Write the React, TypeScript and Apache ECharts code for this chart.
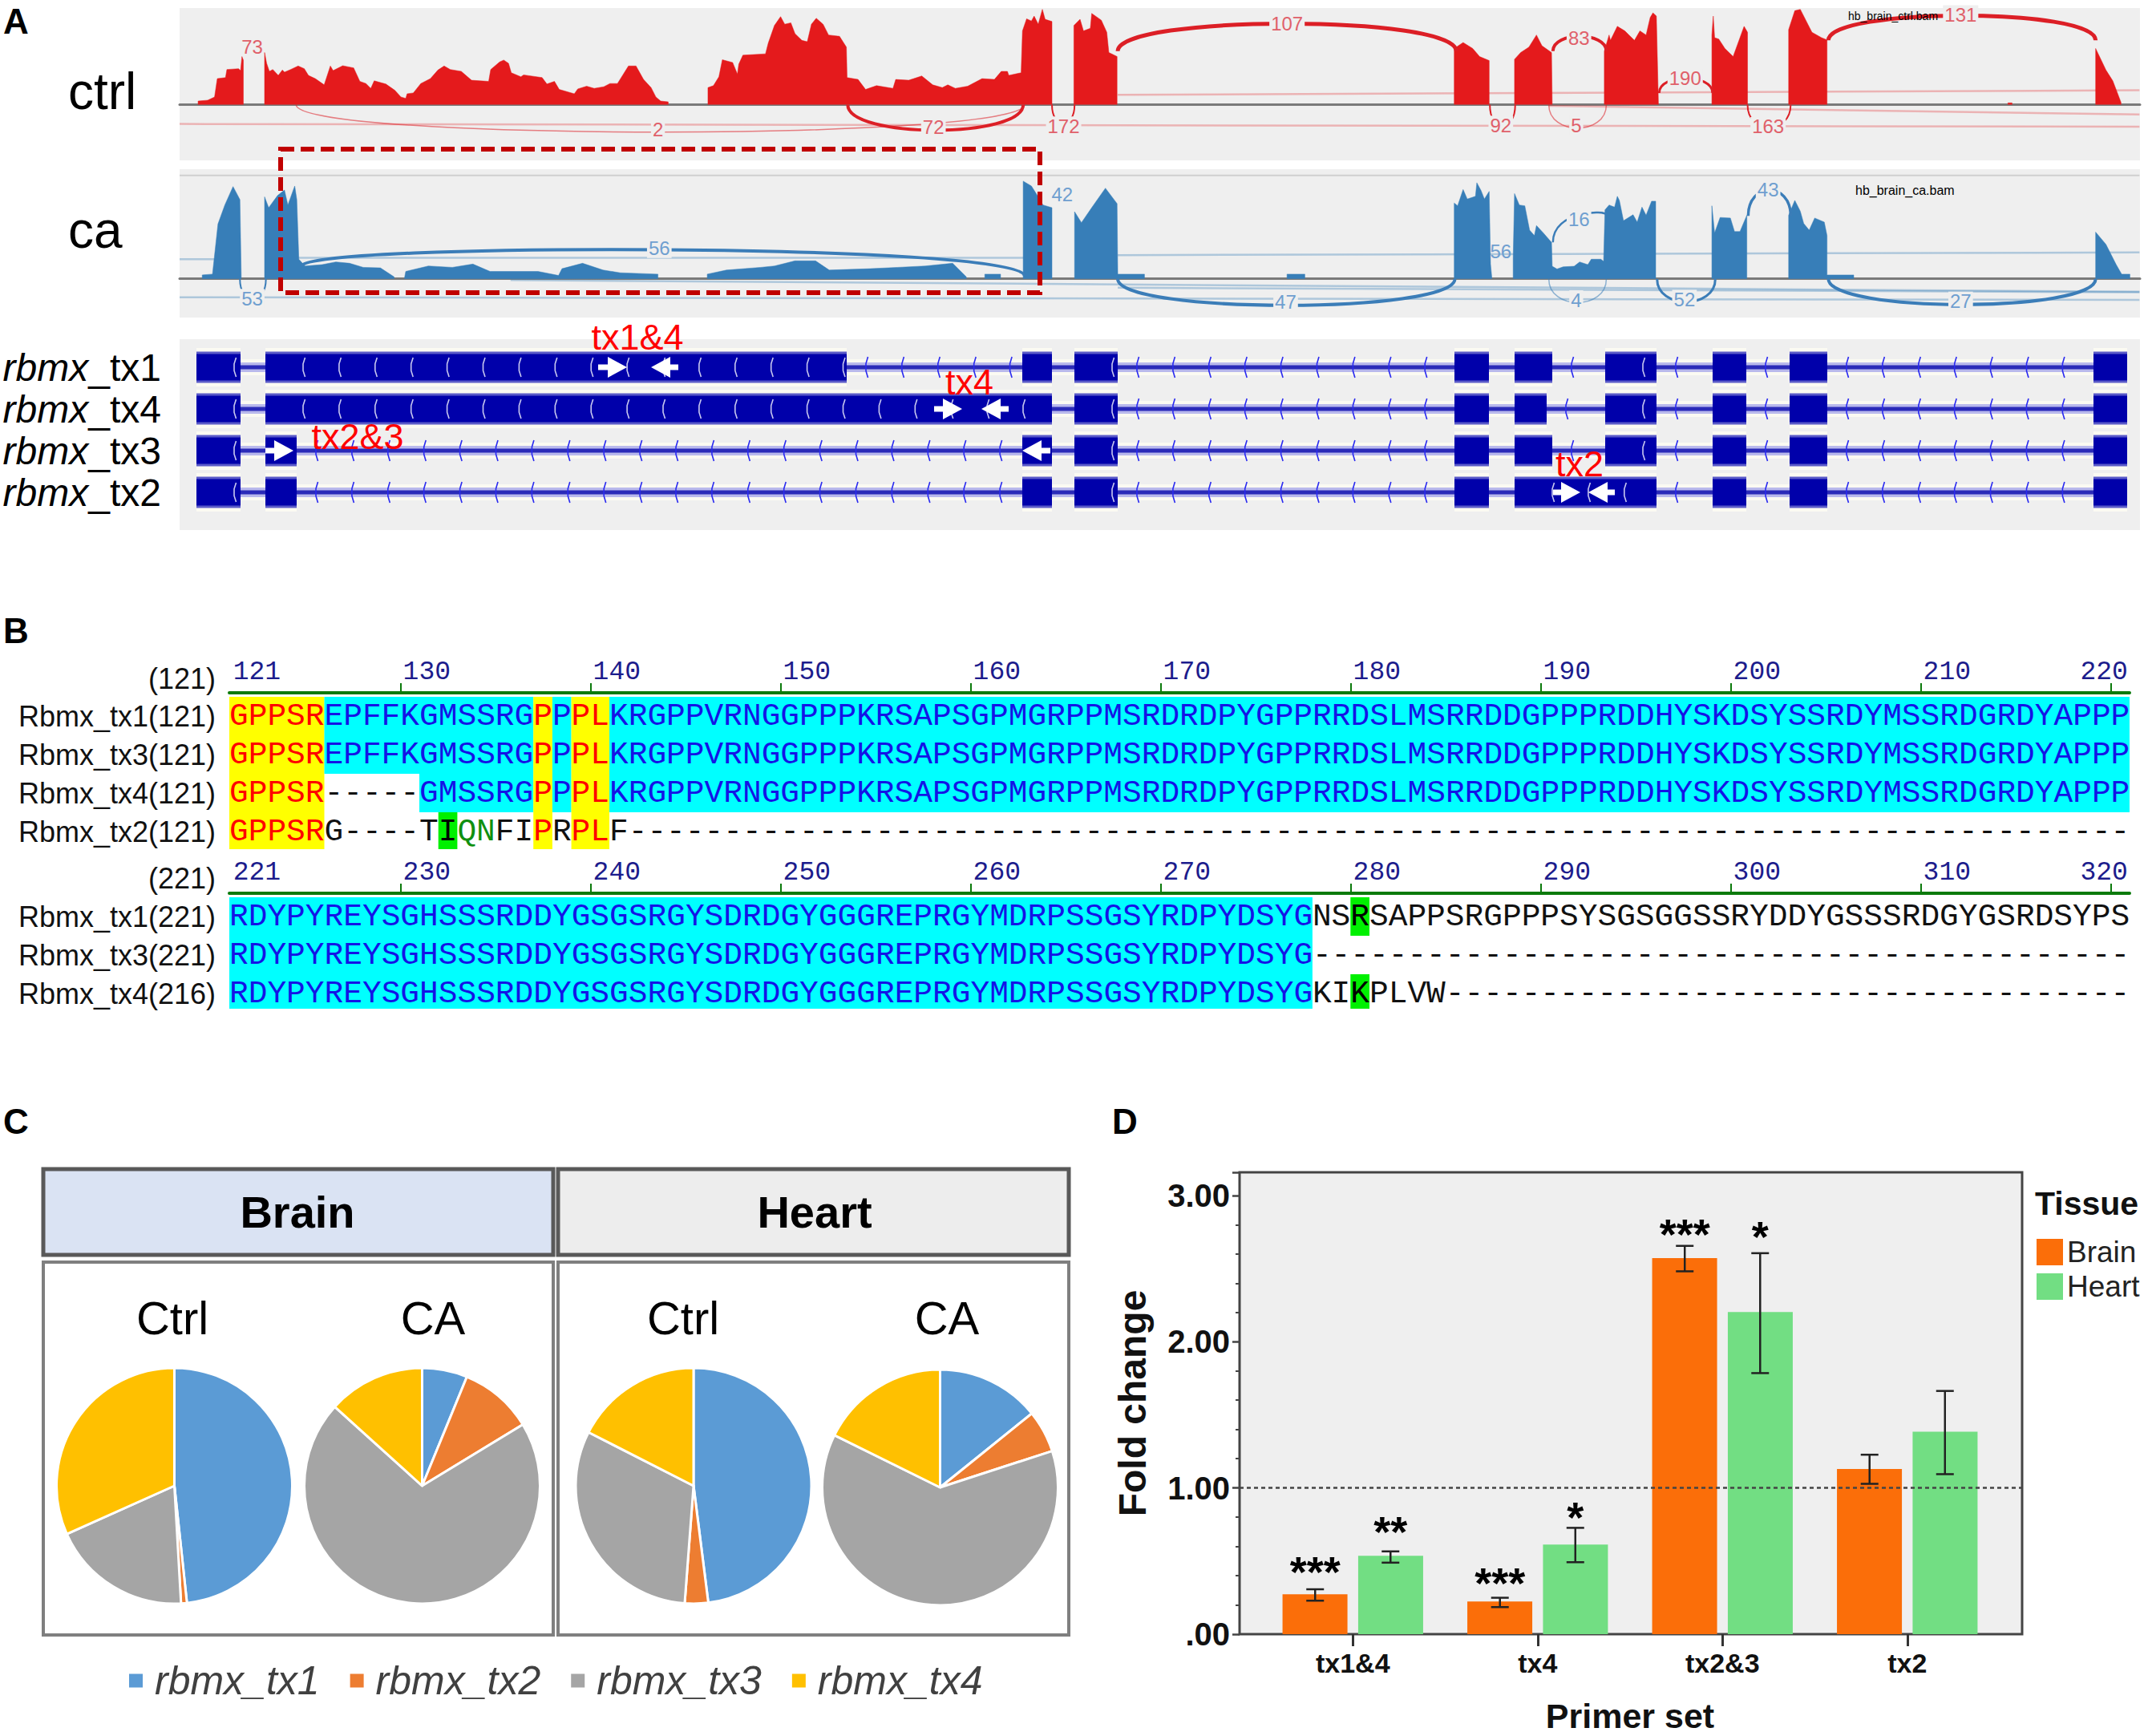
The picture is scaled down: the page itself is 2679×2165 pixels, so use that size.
import React, { useEffect, useRef } from "react";
import * as echarts from "echarts";

const SANS = '"Liberation Sans", Arial, sans-serif';
const MONO = '"Liberation Mono", monospace';

// ---------- Panel A: coverage ([position, read depth])
const ctrlCoverage: number[][][] = [
  [[289,0],[289,13],[303,16],[313,28],[317,96],[329,100],[331,130],[348,133],[351,126],[353,178],[355,165],[355,0]],
  [[386,0],[386,193],[389,153],[393,123],[398,130],[406,108],[412,128],[415,120],[424,130],[435,143],[444,133],[450,108],[460,96],[473,73],[482,143],[486,126],[500,144],[516,136],[525,86],[534,78],[541,60],[546,88],[563,76],[576,53],[585,28],[592,23],[594,40],[603,43],[614,78],[628,96],[639,128],[648,143],[657,130],[673,123],[688,90],[713,86],[716,130],[729,158],[735,165],[742,153],[746,118],[760,103],[764,110],[791,100],[798,76],[809,86],[816,56],[838,40],[843,58],[856,68],[867,60],[881,66],[890,78],[901,78],[917,143],[928,143],[939,93],[950,63],[957,28],[964,13],[975,10],[975,0]],
  [[1033,0],[1033,63],[1041,70],[1049,103],[1054,166],[1069,156],[1076,113],[1078,150],[1084,183],[1117,188],[1121,228],[1130,293],[1139,326],[1145,298],[1154,303],[1160,263],[1170,238],[1178,233],[1184,298],[1191,320],[1201,298],[1209,258],[1225,253],[1235,213],[1236,100],[1252,93],[1263,56],[1279,70],[1303,60],[1307,93],[1326,90],[1345,106],[1361,73],[1375,63],[1383,73],[1394,60],[1412,68],[1433,96],[1451,93],[1461,123],[1470,123],[1472,108],[1490,118],[1492,273],[1498,318],[1505,310],[1509,328],[1515,298],[1521,353],[1525,316],[1535,308],[1535,0]],
  [[1567,0],[1567,293],[1576,316],[1581,273],[1591,283],[1593,338],[1607,313],[1615,268],[1618,193],[1626,183],[1630,178],[1630,0]],
  [[2122,0],[2122,208],[2135,230],[2149,208],[2159,178],[2173,163],[2173,0]],
  [[2210,0],[2210,168],[2219,193],[2231,213],[2242,258],[2250,218],[2264,193],[2265,0]],
  [[2341,0],[2341,198],[2348,258],[2350,238],[2360,290],[2371,273],[2385,238],[2393,273],[2402,258],[2408,323],[2412,340],[2417,328],[2420,0]],
  [[2498,0],[2498,258],[2500,328],[2502,248],[2508,243],[2517,208],[2529,178],[2539,248],[2545,290],[2550,268],[2550,0]],
  [[2610,0],[2610,278],[2619,348],[2627,353],[2638,298],[2644,268],[2658,248],[2666,240],[2666,0]],
  [[2930,0],[2930,6],[2936,6],[2936,0]],
  [[3058,0],[3058,208],[3073,128],[3083,88],[3095,8],[3095,0]],
];
const caCoverage: number[][][] = [
  [[295,0],[295,14],[310,17],[318,202],[328,272],[340,340],[350,292],[352,0]],
  [[386,0],[386,302],[392,262],[405,307],[415,327],[420,272],[430,342],[433,292],[436,72],[445,47],[470,52],[490,62],[510,57],[530,42],[555,40],[575,7],[575,0]],
  [[590,0],[592,27],[625,47],[660,42],[690,54],[715,27],[785,27],[815,12],[820,37],[850,57],[880,32],[905,22],[960,17],[960,0]],
  [[1032,0],[1032,17],[1060,32],[1110,42],[1130,47],[1160,66],[1190,66],[1210,32],[1270,37],[1310,42],[1350,47],[1390,57],[1410,7],[1410,0]],
  [[1437,0],[1437,17],[1460,17],[1460,0]],
  [[1493,0],[1493,360],[1505,342],[1515,302],[1522,272],[1535,262],[1535,0]],
  [[1568,0],[1568,247],[1578,207],[1593,262],[1613,334],[1630,277],[1631,17],[1670,17],[1670,0]],
  [[1878,0],[1878,17],[1904,17],[1904,0]],
  [[2122,0],[2122,279],[2127,269],[2135,329],[2141,294],[2153,304],[2155,354],[2161,326],[2166,294],[2173,322],[2175,54],[2177,0]],
  [[2208,0],[2208,74],[2210,314],[2217,272],[2225,269],[2232,179],[2239,159],[2242,196],[2252,169],[2264,134],[2265,46],[2272,36],[2281,44],[2297,46],[2305,62],[2317,52],[2322,72],[2336,72],[2340,64],[2342,254],[2348,272],[2356,264],[2360,304],[2363,289],[2369,214],[2383,236],[2389,209],[2396,264],[2402,234],[2410,286],[2416,286],[2416,0]],
  [[2498,0],[2498,269],[2502,169],[2510,226],[2525,224],[2531,174],[2539,174],[2549,234],[2549,0]],
  [[2610,0],[2610,234],[2619,289],[2627,249],[2632,204],[2640,179],[2648,224],[2662,209],[2666,159],[2666,14],[2705,14],[2705,0]],
  [[3058,0],[3058,172],[3073,127],[3088,52],[3096,17],[3108,17],[3108,0]],
];
// [start, end, startDepth, endDepth, peak, weight, label, labelPos, labelDepth]
const ctrlJunctions: any[][] = [
  [1631,2125,198,198,300,5,"107",1878,300],
  [2266,2344,198,198,253,4,"83",2304,246],
  [2421,2499,43,43,98,3,"190",2459,98],
  [2668,3058,238,238,330,5,"131",2861,333],
  [432,1495,0,0,-102,1.5,"2",960,-92],
  [1237,1493,0,0,-95,4,"72",1362,-85],
  [1535,1568,0,0,-70,2,"172",1552,-80],
  [2174,2211,0,0,-80,2,"92",2190,-77],
  [2260,2344,0,0,-87,1.5,"5",2300,-77],
  [2550,2613,0,0,-85,2,"163",2580,-82],
  [352,386,215,215,215,0,"73",368,215],
];
const caJunctions: any[][] = [
  [440,1495,47,10,107,4,"56",962,112],
  [2266,2344,134,236,236,2.5,"16",2304,219],
  [2551,2613,232,232,327,3.5,"43",2580,329],
  [350,388,0,0,-75,2,"53",368,-73],
  [1631,2123,0,0,-98,4,"47",1876,-86],
  [2260,2344,0,0,-88,1.5,"4",2300,-78],
  [2418,2503,0,0,-85,3,"52",2458,-76],
  [2668,3058,0,0,-95,4,"27",2861,-83],
  [1535,1568,310,310,310,0,"42",1550,310],
  [2175,2208,102,102,102,0,"56",2190,102],
];
// [start, startDepth, end, endDepth]
const ctrlFaint = [
  [262,-72,3122,-82],
  [1631,36,3122,53],
  [2260,-5,3122,-37],
];
const caFaint = [
  [262,72,320,72],
  [430,77,1495,77],
  [1631,87,3122,97],
  [262,-68,3122,-78],
  [745,-5,3122,-48],
  [1631,-33,3122,-50],
];
const caTopRule = [[262,381,3122,381]];

// ---------- Panel A: transcript models
const transcriptNames = ["rbmx_tx1", "rbmx_tx4", "rbmx_tx3", "rbmx_tx2"];
const transcriptExons: number[][][] = [
  [[245,300],[331,1056],[1275,1312],[1340,1394],[1814,1857],[1889,1936],[2002,2066],[2136,2178],[2232,2279],[2611,2653]],
  [[245,300],[331,1312],[1340,1394],[1814,1857],[1889,1929],[2002,2066],[2136,2178],[2232,2279],[2611,2653]],
  [[245,300],[331,370],[1275,1312],[1340,1394],[1814,1857],[1889,1936],[2002,2066],[2136,2178],[2232,2279],[2611,2653]],
  [[245,300],[331,370],[1275,1312],[1340,1394],[1814,1857],[1889,2066],[2136,2178],[2232,2279],[2611,2653]],
];
// [transcript row, from, to] : the arrow points from -> to
const primerArrows = [
  [0,746,782],[0,846,812],
  [1,1165,1200],[1,1258,1224],
  [2,331,366],[2,1310,1275],
  [3,1937,1971],[3,2014,1981],
];

// ---------- Panel B: alignment
const seqNamesTop = ["Rbmx_tx1(121)", "Rbmx_tx3(121)", "Rbmx_tx4(121)", "Rbmx_tx2(121)"];
const seqTop = [
  "GPPSREPFFKGMSSRGPPPLKRGPPVRNGGPPPKRSAPSGPMGRPPMSRDRDPYGPPRRDSLMSRRDDGPPPRDDHYSKDSYSSRDYMSSRDGRDYAPPP",
  "GPPSREPFFKGMSSRGPPPLKRGPPVRNGGPPPKRSAPSGPMGRPPMSRDRDPYGPPRRDSLMSRRDDGPPPRDDHYSKDSYSSRDYMSSRDGRDYAPPP",
  "GPPSR-----GMSSRGPPPLKRGPPVRNGGPPPKRSAPSGPMGRPPMSRDRDPYGPPRRDSLMSRRDDGPPPRDDHYSKDSYSSRDYMSSRDGRDYAPPP",
  "GPPSRG----TIQNFIPRPLF-------------------------------------------------------------------------------",
];
// runs of [shading class, length]: Y identical, C majority, G similar, g weak, N none
const seqTopShade: [string, number][][] = [
  [["Y",5],["C",11],["Y",1],["C",1],["Y",2],["C",80]],
  [["Y",5],["C",11],["Y",1],["C",1],["Y",2],["C",80]],
  [["Y",5],["N",5],["C",6],["Y",1],["C",1],["Y",2],["C",80]],
  [["Y",5],["N",6],["G",1],["g",2],["N",2],["Y",1],["N",1],["Y",2],["N",80]],
];
const seqNamesBottom = ["Rbmx_tx1(221)", "Rbmx_tx3(221)", "Rbmx_tx4(216)"];
const seqBottom = [
  "RDYPYREYSGHSSSRDDYGSGSRGYSDRDGYGGGREPRGYMDRPSSGSYRDPYDSYGNSRSAPPSRGPPPSYSGSGGSSRYDDYGSSSRDGYGSRDSYPS",
  "RDYPYREYSGHSSSRDDYGSGSRGYSDRDGYGGGREPRGYMDRPSSGSYRDPYDSYG-------------------------------------------",
  "RDYPYREYSGHSSSRDDYGSGSRGYSDRDGYGGGREPRGYMDRPSSGSYRDPYDSYGKIKPLVW------------------------------------",
];
const seqBottomShade: [string, number][][] = [
  [["C",57],["N",2],["G",1],["N",40]],
  [["C",57],["N",43]],
  [["C",57],["N",2],["G",1],["N",40]],
];
const seqTicks = [9,19,29,39,49,59,69,79,89,99];
const seqLabelPositions = [0.2,9.14,19.14,29.14,39.14,49.14,59.14,69.14,79.14,89.14,97.4];
const seqLabelsTop = ["121","130","140","150","160","170","180","190","200","210","220"];
const seqLabelsBottom = ["221","230","240","250","260","270","280","290","300","310","320"];

// ---------- Panel C: isoform shares
const isoforms = ["rbmx_tx1", "rbmx_tx2", "rbmx_tx3", "rbmx_tx4"];
const isoformColors = ["#5B9BD5", "#ED7D31", "#A5A5A5", "#FFC000"];
const brainCtrl = [48.3, 0.8, 19.2, 31.7];
const brainCa = [6.2, 10.1, 70.4, 13.3];
const heartCtrl = [48.0, 3.2, 31.3, 17.5];
const heartCa = [14.2, 5.8, 62.3, 17.7];

// ---------- Panel D: fold change
const primerSets = ["tx1&4", "tx4", "tx2&3", "tx2"];
const brainFold = [0.273, 0.224, 2.572, 1.13];
const heartFold = [0.536, 0.613, 2.202, 1.384];
const brainLow = [0.229, 0.185, 2.481, 1.028];
const brainHigh = [0.307, 0.249, 2.655, 1.227];
const heartLow = [0.489, 0.492, 1.785, 1.094];
const heartHigh = [0.566, 0.727, 2.605, 1.663];
const brainStars = ["***", "***", "***", ""];
const heartStars = ["**", "*", "*", ""];
const brainStarLevel = [0.464, 0.39, 2.776, 0];
const heartStarLevel = [0.74, 0.84, 2.757, 0];
const foldTicksMax = 3.158;
const foldReference = 1;

function txt(x: number, y: number, text: string, o: any = {}) {
  const align = o.align || "left";
  const va = o.va || "middle";
  const { va: _v, ...rest } = o;
  return {
    x, y, text,
    fill: "#000",
    fontFamily: SANS,
    ...rest,
    align, textAlign: align,
    verticalAlign: va, textVerticalAlign: va,
  };
}

function gText(x: number, y: number, text: string, o: any = {}, z = 100) {
  return { type: "text", z, silent: true, style: txt(x, y, text, o) };
}

const coverageSeries = (segs: number[][][], color: string, axis: number) =>
  segs.map((seg) => ({
    type: "line", xAxisIndex: axis, yAxisIndex: axis, data: seg, showSymbol: false, symbol: "none",
    lineStyle: { width: 0.5, color }, areaStyle: { color, opacity: 1 }, z: 3, silent: true,
  }));

const faintSeries = (rows: number[][], color: string, width: number, axis: number) => ({
  type: "custom", xAxisIndex: axis, yAxisIndex: axis, z: 2, silent: true,
  data: rows.map((r) => [r[0], r[1]]),
  renderItem: (p: any, api: any) => {
    const r = rows[p.dataIndex];
    const a = api.coord([r[0], r[1]]);
    const b = api.coord([r[2], r[3]]);
    return { type: "line", shape: { x1: a[0], y1: a[1], x2: b[0], y2: b[1] }, style: { stroke: color, lineWidth: width, fill: "none" } };
  },
});

const junctionSeries = (rows: any[][], color: string, labelColor: string, axis: number) => ({
  type: "custom", xAxisIndex: axis, yAxisIndex: axis, z: 5, silent: true,
  data: rows.map((r) => [r[0], r[2]]),
  renderItem: (p: any, api: any) => {
    const [x0, x1, y0, y1, peak, w, label, lx, ly] = rows[p.dataIndex];
    const c = (peak - 0.125 * (y0 + y1)) / 0.75;
    const a = api.coord([x0, y0]);
    const b = api.coord([x1, y1]);
    const cp = api.coord([x0, c]);
    const l = api.coord([lx, ly]);
    const children: any[] = [];
    if (w > 0) {
      children.push({
        type: "bezierCurve",
        shape: { x1: a[0], y1: a[1], x2: b[0], y2: b[1], cpx1: a[0], cpy1: cp[1], cpx2: b[0], cpy2: cp[1] },
        style: { stroke: color, lineWidth: w, fill: "none", opacity: w < 2 ? 0.55 : 1 },
      });
    }
    children.push({
      type: "text",
      style: txt(l[0], l[1], label, { align: "center", fill: labelColor, fontSize: 24, backgroundColor: w > 0 ? "#EFEFEF" : "transparent", padding: [0, 2] }),
    });
    return { type: "group", children };
  },
});

function intronsOf(exons: number[][]) {
  const out: number[][] = [];
  for (let i = 1; i < exons.length; i++) out.push([exons[i - 1][1], exons[i][0]]);
  return out;
}

function chevron(x: number, y: number, half: number, stroke: string) {
  return {
    type: "polyline",
    shape: { points: [[x + 2.5, y - half], [x, y - half * 0.35], [x, y + half * 0.35], [x + 2.5, y + half]] },
    style: { stroke, lineWidth: 1.6, fill: "none" },
  };
}

const intronRows = transcriptExons.flatMap((ex, row) => intronsOf(ex).map((s) => [row, s[0], s[1]]));
const exonRows = transcriptExons.flatMap((ex, row) => ex.map((s) => [row, s[0], s[1]]));

function seqRuns(seqs: string[], shades: [string, number][][]) {
  const cells: any[] = [];
  const runs: any[] = [];
  seqs.forEach((s, row) => {
    let pos = 0;
    shades[row].forEach(([cls, len]) => {
      cells.push({ row, pos, len, cls });
      runs.push({ row, pos, cls, text: s.slice(pos, pos + len) });
      pos += len;
    });
  });
  return { cells, runs };
}

const shadeFill: Record<string, string> = { Y: "#FFFF00", C: "#00FFFF", G: "#00F000" };
const shadeText: Record<string, string> = { Y: "#FF0000", C: "#1414E6", G: "#000000", g: "#109010", N: "#111111" };

const seqSeries = (seqs: string[], shades: [string, number][][], axis: number, trim: number) => {
  const { cells, runs } = seqRuns(seqs, shades);
  return [
    {
      type: "custom", xAxisIndex: axis, yAxisIndex: axis, z: 2, silent: true,
      data: cells.map((c) => [c.pos, c.row]),
      renderItem: (p: any, api: any) => {
        const c = cells[p.dataIndex];
        const fill = shadeFill[c.cls];
        if (!fill) return { type: "group", children: [] };
        const a = api.coord([c.pos, c.row]);
        const b = api.coord([c.pos + c.len, c.row]);
        const h = api.size([0, 1])[1];
        const last = c.row === seqs.length - 1 ? trim : 0;
        return { type: "rect", shape: { x: a[0], y: a[1] - h / 2, width: b[0] - a[0], height: h - last }, style: { fill } };
      },
    },
    {
      type: "custom", xAxisIndex: axis, yAxisIndex: axis, z: 3,
      data: runs.map((r) => [r.pos, r.row]),
      renderItem: (p: any, api: any) => {
        const r = runs[p.dataIndex];
        const a = api.coord([r.pos, r.row]);
        return { type: "text", style: txt(a[0], a[1], r.text, { fontFamily: MONO, fontSize: 39.5, fill: shadeText[r.cls] }) };
      },
    },
  ];
};

const seqAxisX = (grid: number, labels: string[]) => ({
  type: "value", gridIndex: grid, position: "top", offset: 5, min: 0, max: 100, splitLine: { show: false },
  axisLine: { show: true, lineStyle: { color: "#0B7A0B", width: 4 } },
  axisTick: { show: true, length: 12, customValues: seqTicks, lineStyle: { color: "#0B7A0B", width: 2 } },
  axisLabel: {
    show: true, customValues: seqLabelPositions, margin: 9, align: "left", color: "#1C1C8C",
    fontFamily: MONO, fontSize: 33, hideOverlap: false,
    formatter: (v: number) => labels[seqLabelPositions.indexOf(v)] ?? "",
  },
});

const seqAxisY = (grid: number, names: string[]) => ({
  type: "category", gridIndex: grid, inverse: true, data: names,
  axisLine: { show: false }, axisTick: { show: false }, splitLine: { show: false },
  axisLabel: { show: true, interval: 0, margin: 17, fontFamily: SANS, fontSize: 36, color: "#111" },
});

const hiddenX = (grid: number, min: number, max: number) => ({ type: "value", gridIndex: grid, min, max, show: false });

const pie = (values: number[], cx: number, cy: number) => ({
  type: "pie", center: [cx, cy], radius: 147, startAngle: 90, clockwise: true, silent: true,
  label: { show: false }, labelLine: { show: false }, emphasis: { disabled: true },
  itemStyle: { borderColor: "#FFFFFF", borderWidth: 3 },
  data: values.map((value, i) => ({ name: isoforms[i], value, itemStyle: { color: isoformColors[i] } })),
});

const errorSeries = (low: number[], high: number[], stars: string[], starLevel: number[], sign: number) => ({
  type: "custom", xAxisIndex: 6, yAxisIndex: 6, z: 6, silent: true,
  data: low.map((v, i) => [i, v]),
  renderItem: (p: any, api: any) => {
    const i = p.dataIndex;
    const band = api.size([1, 0])[0];
    const dx = sign * band * 0.204;
    const a = api.coord([i, low[i]]);
    const b = api.coord([i, high[i]]);
    const x = a[0] + dx;
    const line = (x1: number, y1: number, x2: number, y2: number) => ({
      type: "line", shape: { x1, y1, x2, y2 }, style: { stroke: "#222", lineWidth: 2.5 },
    });
    const children: any[] = [
      line(x, a[1], x, b[1]),
      line(x - 11, a[1], x + 11, a[1]),
      line(x - 11, b[1], x + 11, b[1]),
    ];
    if (stars[i]) {
      const s = api.coord([i, starLevel[i]]);
      children.push({ type: "text", style: txt(x, s[1] + 7, stars[i], { align: "center", fontSize: 54, fontWeight: "bold", fill: "#000" }) });
    }
    return { type: "group", children };
  },
});

const option: any = {
  animation: false,
  backgroundColor: "#FFFFFF",
  textStyle: { fontFamily: SANS },
  grid: [
    { left: 224, top: 10, width: 2445, height: 190, show: true, backgroundColor: "#EFEFEF", borderWidth: 0, outerBoundsMode: "none" },
    { left: 224, top: 211, width: 2445, height: 185, show: true, backgroundColor: "#EFEFEF", borderWidth: 0, outerBoundsMode: "none" },
    { left: 224, top: 432, width: 2445, height: 208, outerBoundsMode: "none" },
    { left: 286, top: 869, width: 2370, height: 192, outerBoundsMode: "none" },
    { left: 286, top: 1119, width: 2370, height: 144, outerBoundsMode: "none" },
    { left: 1546, top: 1462, width: 976, height: 576, show: true, backgroundColor: "#EFEFEF", borderColor: "#444444", borderWidth: 3, outerBoundsMode: "none" },
    { left: 1572, top: 1462, width: 922, height: 576, outerBoundsMode: "none" },
  ],
  xAxis: [
    { type: "value", gridIndex: 0, min: 262, max: 3122.7, axisLabel: { show: false }, axisTick: { show: false }, splitLine: { show: false }, axisLine: { show: true, onZero: true, lineStyle: { color: "#7A7A7A", width: 3 } } },
    { type: "value", gridIndex: 1, min: 262, max: 3122.7, axisLabel: { show: false }, axisTick: { show: false }, splitLine: { show: false }, axisLine: { show: true, onZero: true, lineStyle: { color: "#7A7A7A", width: 3 } } },
    hiddenX(2, 224, 2669),
    seqAxisX(3, seqLabelsTop),
    seqAxisX(4, seqLabelsBottom),
    hiddenX(5, 0, 1),
    {
      type: "category", gridIndex: 6, data: primerSets, name: "Primer set", nameLocation: "middle", nameGap: 80,
      nameTextStyle: { fontFamily: SANS, fontSize: 43, fontWeight: "bold", color: "#111" },
      axisLine: { show: false },
      axisTick: { show: true, alignWithLabel: true, length: 15, lineStyle: { color: "#333", width: 3 } },
      axisLabel: { margin: 19, interval: 0, fontFamily: SANS, fontSize: 34, fontWeight: "bold", color: "#111" },
    },
  ],
  yAxis: [
    { type: "value", gridIndex: 0, min: -207, max: 358, show: false },
    { type: "value", gridIndex: 1, min: -143, max: 404, show: false },
    {
      type: "category", gridIndex: 2, inverse: true, data: transcriptNames,
      axisLine: { show: false }, axisTick: { show: false },
      axisLabel: {
        show: true, interval: 0, margin: 23,
        formatter: (v: string) => `{i|${v.split("_")[0]}}{n|_${v.split("_")[1]}}`,
        rich: {
          i: { fontFamily: SANS, fontSize: 48, fontStyle: "italic", color: "#000" },
          n: { fontFamily: SANS, fontSize: 48, color: "#000" },
        },
      },
    },
    seqAxisY(3, seqNamesTop),
    seqAxisY(4, seqNamesBottom),
    {
      type: "value", gridIndex: 5, min: 0, max: foldTicksMax, interval: 1,
      name: "Fold change", nameLocation: "middle", nameRotate: 90, nameGap: 110,
      nameTextStyle: { fontFamily: SANS, fontSize: 48, fontWeight: "bold", color: "#111" },
      splitLine: { show: false },
      axisLine: { show: false },
      axisTick: { show: true, length: 9, lineStyle: { color: "#444", width: 2.5 } },
      minorTick: { show: true, splitNumber: 5, length: 5, lineStyle: { color: "#444", width: 2 } },
      axisLabel: {
        show: true, margin: 12, padding: [14, 0, 0, 0], fontFamily: SANS, fontSize: 40, fontWeight: "bold", color: "#111",
        formatter: (v: number) => (v > 3 ? "" : v === 0 ? ".00" : v.toFixed(2)),
      },
    },
    { type: "value", gridIndex: 6, min: 0, max: foldTicksMax, show: false },
  ],
  legend: [
    {
      left: 159, top: 2071, padding: 0, itemWidth: 19, itemHeight: 19, itemGap: 36, icon: "rect", selectedMode: false,
      data: isoforms, textStyle: { fontFamily: SANS, fontSize: 50, fontStyle: "italic", color: "#404040", padding: [0, 0, 0, 9] },
    },
    {
      orient: "vertical", left: 2540, top: 1543, padding: 0, itemWidth: 33, itemHeight: 33, itemGap: 6, icon: "rect", selectedMode: false,
      data: ["Brain", "Heart"], textStyle: { fontFamily: SANS, fontSize: 37, color: "#222" },
    },
  ],
  graphic: [
    // panel letters
    gText(4, 26, "A", { fontSize: 44, fontWeight: "bold" }),
    gText(4, 786, "B", { fontSize: 44, fontWeight: "bold" }),
    gText(4, 1398, "C", { fontSize: 44, fontWeight: "bold" }),
    gText(1387, 1398, "D", { fontSize: 44, fontWeight: "bold" }),
    // panel A
    gText(85, 146, "ctrl", { fontSize: 64, va: "bottom" }),
    gText(85, 319, "ca", { fontSize: 64, va: "bottom" }),
    { type: "rect", z: -1, silent: true, shape: { x: 224, y: 423, width: 2445, height: 238 }, style: { fill: "#EFEFEF" } },
    { type: "rect", z: 100, silent: true, shape: { x: 350, y: 186, width: 947, height: 179 }, style: { fill: "none", stroke: "#C00000", lineWidth: 6, lineDash: [17, 8] } },
    gText(2305, 20, "hb_brain_ctrl.bam", { fontSize: 14 }),
    gText(2314, 237, "hb_brain_ca.bam", { fontSize: 16 }),
    gText(795, 420, "tx1&4", { fontSize: 45, fill: "#FF0000", align: "center" }),
    gText(1209, 476, "tx4", { fontSize: 45, fill: "#FF0000", align: "center" }),
    gText(446, 544, "tx2&3", { fontSize: 45, fill: "#FF0000", align: "center" }),
    gText(1970, 578, "tx2", { fontSize: 45, fill: "#FF0000", align: "center" }),
    // panel B
    gText(269, 846, "(121)", { fontSize: 36, align: "right", fill: "#111" }),
    gText(269, 1095, "(221)", { fontSize: 36, align: "right", fill: "#111" }),
    // panel C
    { type: "rect", silent: true, shape: { x: 54, y: 1458, width: 636, height: 107 }, style: { fill: "#DAE3F3", stroke: "#595959", lineWidth: 5 } },
    { type: "rect", silent: true, shape: { x: 696, y: 1458, width: 637, height: 107 }, style: { fill: "#EDEDED", stroke: "#595959", lineWidth: 5 } },
    { type: "rect", silent: true, shape: { x: 54, y: 1574, width: 636, height: 465 }, style: { fill: "#FFFFFF", stroke: "#7F7F7F", lineWidth: 4 } },
    { type: "rect", silent: true, shape: { x: 696, y: 1574, width: 637, height: 465 }, style: { fill: "#FFFFFF", stroke: "#7F7F7F", lineWidth: 4 } },
    gText(371, 1511, "Brain", { fontSize: 56, fontWeight: "bold", align: "center" }),
    gText(1016, 1511, "Heart", { fontSize: 56, fontWeight: "bold", align: "center" }),
    gText(215, 1643, "Ctrl", { fontSize: 58, align: "center" }),
    gText(540, 1643, "CA", { fontSize: 58, align: "center" }),
    gText(852, 1643, "Ctrl", { fontSize: 58, align: "center" }),
    gText(1181, 1643, "CA", { fontSize: 58, align: "center" }),
    // panel D
    gText(2538, 1501, "Tissue", { fontSize: 41, fontWeight: "bold", fill: "#111" }),
  ],
  series: [
    faintSeries(ctrlFaint, "rgba(227,26,28,0.28)", 2.5, 0),
    faintSeries(caFaint, "rgba(55,126,184,0.35)", 2.5, 1),
    faintSeries(caTopRule, "#CFCFCF", 2, 1),
    ...coverageSeries(ctrlCoverage, "#E41A1C", 0),
    ...coverageSeries(caCoverage, "#377EB8", 1),
    junctionSeries(ctrlJunctions, "#DC1F26", "#E0606A", 0),
    junctionSeries(caJunctions, "#3B7DB8", "#6F9FD0", 1),
    // transcript models
    {
      type: "custom", xAxisIndex: 2, yAxisIndex: 2, z: 2, silent: true,
      data: intronRows.map((r) => [r[1], r[0]]),
      renderItem: (p: any, api: any) => {
        const [row, s, e] = intronRows[p.dataIndex];
        const a = api.coord([s, row]);
        const b = api.coord([e, row]);
        const bar = (h: number, fill: string) => ({ type: "rect", shape: { x: a[0], y: a[1] - h / 2, width: b[0] - a[0], height: h }, style: { fill } });
        const children: any[] = [bar(20, "#FBFAF2"), bar(12, "#B9B9EC"), bar(5, "#2B2BB8")];
        for (let x = s + 24; x < e - 8; x += 44.9) children.push(chevron(api.coord([x, row])[0], a[1], 13, "#2A2AF0"));
        return { type: "group", children };
      },
    },
    {
      type: "custom", xAxisIndex: 2, yAxisIndex: 2, z: 3, silent: true,
      data: exonRows.map((r) => [r[1], r[0]]),
      renderItem: (p: any, api: any) => {
        const [row, s, e] = exonRows[p.dataIndex];
        const a = api.coord([s, row]);
        const b = api.coord([e, row]);
        const bar = (h: number, fill: string) => ({ type: "rect", shape: { x: a[0], y: a[1] - h / 2, width: b[0] - a[0], height: h }, style: { fill } });
        const children: any[] = [bar(48, "#FBFAF2"), bar(39, "#5A5AC8"), bar(33, "#0000AA")];
        for (let x = s + 47; x < e - 2; x += 44.9) children.push(chevron(api.coord([x, row])[0], a[1], 12, "#C8C8F0"));
        return { type: "group", children };
      },
    },
    {
      type: "custom", xAxisIndex: 2, yAxisIndex: 2, z: 4, silent: true,
      data: primerArrows.map((r) => [r[1], r[0]]),
      renderItem: (p: any, api: any) => {
        const [row, from, to] = primerArrows[p.dataIndex];
        const a = api.coord([from, row]);
        const b = api.coord([to, row]);
        const dir = Math.sign(b[0] - a[0]);
        const neck = b[0] - dir * 24;
        const y = a[1];
        return {
          type: "polygon",
          shape: { points: [[a[0], y - 3.5], [neck, y - 3.5], [neck, y - 13], [b[0], y], [neck, y + 13], [neck, y + 3.5], [a[0], y + 3.5]] },
          style: { fill: "#FFFFFF" },
        };
      },
    },
    // alignment
    ...seqSeries(seqTop, seqTopShade, 3, 2),
    ...seqSeries(seqBottom, seqBottomShade, 4, 5),
    // pies
    pie(brainCtrl, 217.5, 1853),
    pie(brainCa, 526.5, 1853),
    pie(heartCtrl, 865, 1853),
    pie(heartCa, 1172.5, 1855),
    // fold change
    {
      name: "Brain", type: "bar", xAxisIndex: 6, yAxisIndex: 6, data: brainFold, barWidth: 81, barGap: "16.5%", z: 3, silent: true,
      itemStyle: { color: "#FB6E09" },
    },
    {
      name: "Heart", type: "bar", xAxisIndex: 6, yAxisIndex: 6, data: heartFold, barWidth: 81, barGap: "16.5%", z: 3, silent: true,
      itemStyle: { color: "#72DE83" },
    },
    errorSeries(brainLow, brainHigh, brainStars, brainStarLevel, -1),
    errorSeries(heartLow, heartHigh, heartStars, heartStarLevel, 1),
    {
      type: "line", xAxisIndex: 5, yAxisIndex: 5, z: 5, silent: true, showSymbol: false, symbol: "none",
      data: [[0, foldReference], [1, foldReference]],
      lineStyle: { color: "#444", width: 2.5, type: [5, 4] },
    },
  ],
};

export default function App() {
  const ref = useRef<HTMLDivElement>(null);
  useEffect(() => {
    const chart = echarts.init(ref.current!, undefined, { renderer: "svg" });
    chart.setOption(option);
    return () => chart.dispose();
  }, []);
  return <div ref={ref} style={{ position: "absolute", left: 0, top: 0, width: 2679, height: 2165 }} />;
}
